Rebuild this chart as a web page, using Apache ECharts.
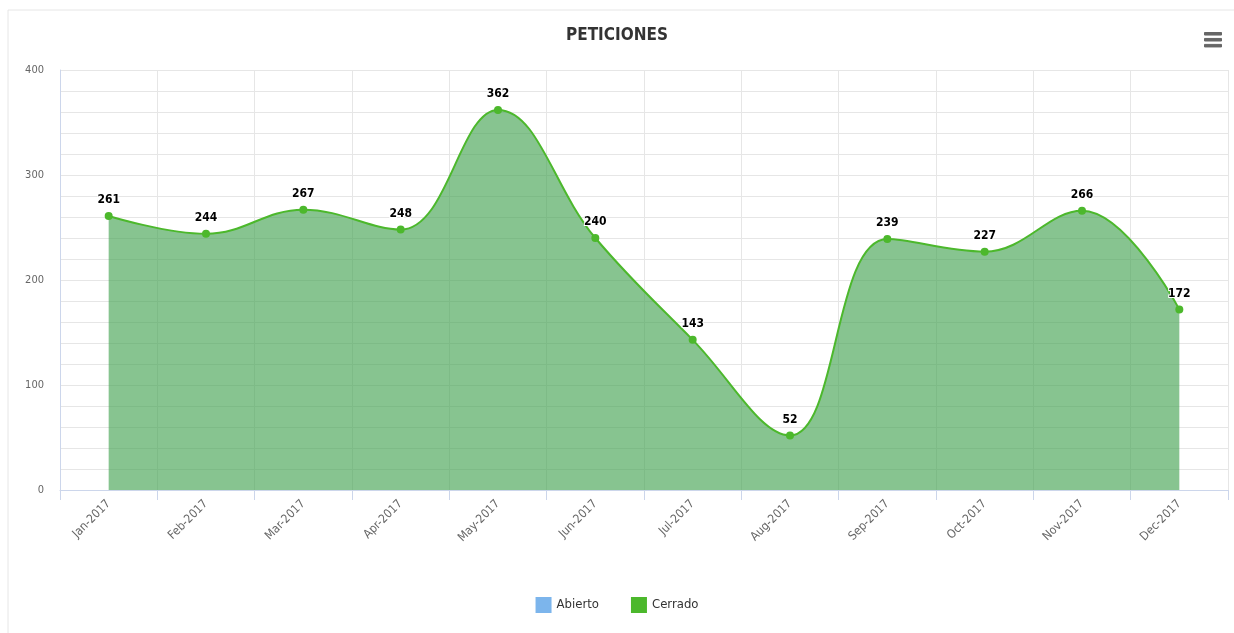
<!DOCTYPE html>
<html>
<head>
<meta charset="utf-8">
<script src="https://cdn.jsdelivr.net/npm/echarts@6/dist/echarts.min.js"></script>
<style>
  html, body { margin: 0; padding: 0; background: #fff; }
  #chart { width: 1234px; height: 633px; }
</style>
</head>
<body>
<div id="chart"></div>
<script>
var months = ["Jan-2017", "Feb-2017", "Mar-2017", "Apr-2017", "May-2017", "Jun-2017",
              "Jul-2017", "Aug-2017", "Sep-2017", "Oct-2017", "Nov-2017", "Dec-2017"];
var abierto = [];
var cerrado = [261, 244, 267, 248, 362, 240, 143, 52, 239, 227, 266, 172];

var font = '"Liberation Sans Narrow", "DejaVu Sans Condensed", "Roboto", sans-serif';

var chart = echarts.init(document.getElementById("chart"));

var option = {
  animation: false,
  title: {
    text: "PETICIONES",
    left: "center",
    top: 22,
    textStyle: { fontFamily: font, fontSize: 17, fontWeight: "bold", color: "#333" }
  },
  toolbox: {
    right: 12,
    top: 32,
    padding: 0,
    itemSize: 17,
    feature: {
      myMenu: {
        show: true,
        title: "",
        icon: "path://M0,0 L20,0 L20,3 L0,3 Z M0,7 L20,7 L20,10 L0,10 Z M0,14 L20,14 L20,17 L0,17 Z",
        iconStyle: { color: "#666", borderColor: "#666" },
        onclick: function () {}
      }
    }
  },
  graphic: [{
    type: "rect",
    shape: { x: 8, y: 10, width: 1240, height: 640 },
    style: { fill: "none", stroke: "#e6e6e6", lineWidth: 1 },
    silent: true
  }],
  legend: {
    bottom: 15,
    left: "center",
    itemWidth: 16,
    itemHeight: 16,
    itemGap: 32,
    icon: "rect",
    data: ["Abierto", "Cerrado"],
    textStyle: { fontFamily: font, fontSize: 13, color: "#333" }
  },
  grid: { left: 60, right: 6, top: 70, bottom: 143 },
  xAxis: {
    type: "category",
    boundaryGap: true,
    data: months,
    axisLine: { lineStyle: { color: "#ccd6eb" } },
    axisTick: { show: true, length: 10, lineStyle: { color: "#ccd6eb" } },
    splitLine: { show: true, lineStyle: { color: "#e6e6e6" } },
    axisLabel: {
      rotate: 45,
      margin: 12,
      interval: 0,
      fontFamily: font,
      fontSize: 12,
      color: "#666"
    }
  },
  yAxis: {
    type: "value",
    min: 0,
    max: 400,
    interval: 100,
    axisLine: { show: true, lineStyle: { color: "#ccd6eb" } },
    axisTick: { show: false },
    axisLabel: { margin: 16, fontFamily: font, fontSize: 11, color: "#666" },
    splitLine: { show: true, lineStyle: { color: "#e6e6e6" } },
    minorTick: { show: false, splitNumber: 5 },
    minorSplitLine: { show: true, lineStyle: { color: "#e6e6e6" } }
  },
  series: [
    {
      name: "Abierto",
      type: "line",
      data: abierto,
      itemStyle: { color: "#7cb5ec" }
    },
    {
      name: "Cerrado",
      type: "line",
      data: cerrado,
      smooth: 0.4,
      symbol: "circle",
      symbolSize: 8,
      itemStyle: { color: "#4cb82c" },
      lineStyle: { color: "#4cb82c", width: 2 },
      areaStyle: { color: "rgba(70,165,85,0.65)", opacity: 1 },
      label: {
        show: true,
        position: "top",
        distance: 6,
        fontFamily: font,
        fontSize: 12,
        fontWeight: "bold",
        color: "#000",
        textBorderColor: "#fff",
        textBorderWidth: 2
      }
    }
  ]
};

chart.setOption(option);
</script>
</body>
</html>
